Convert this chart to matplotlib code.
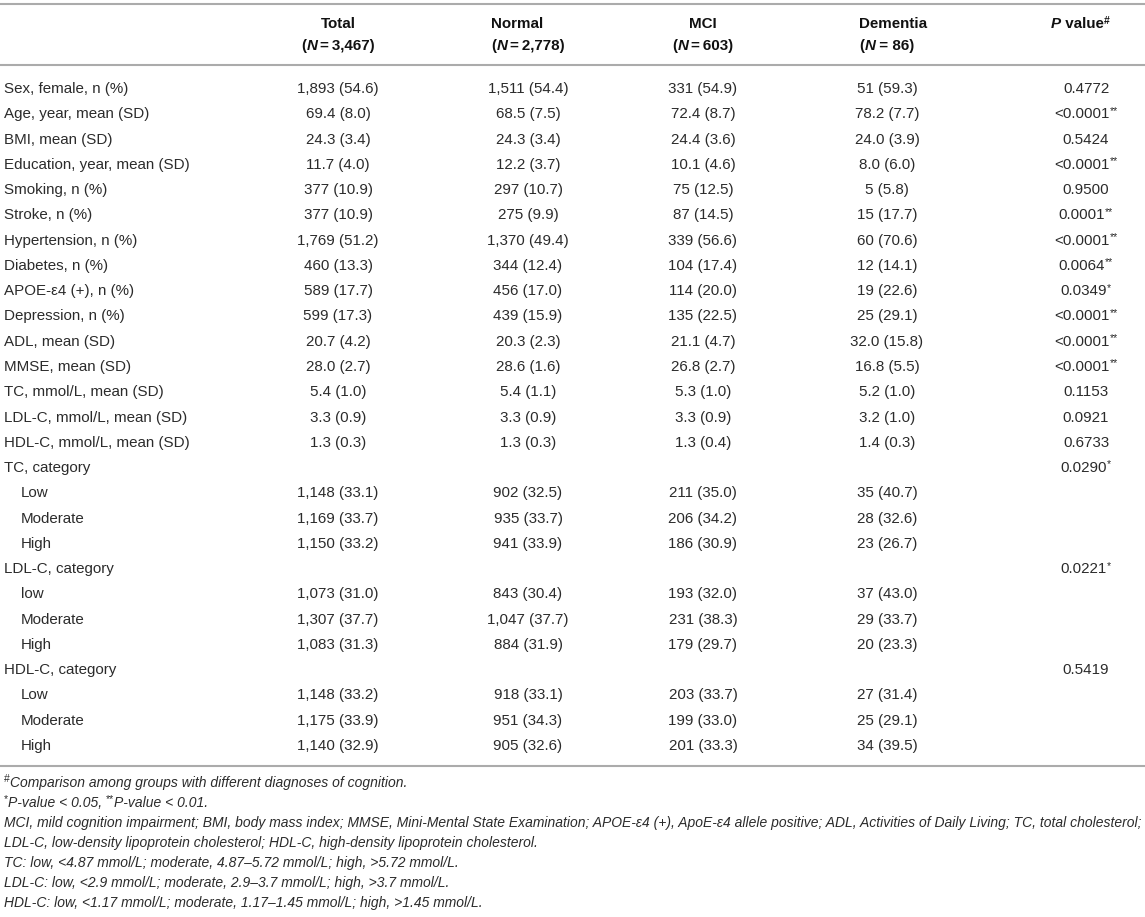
import matplotlib.pyplot as plt

plt.rcParams['font.family'] = ['Liberation Sans', 'DejaVu Sans']

# Table contents
row_labels = [
    "Sex, female, n (%)", "Age, year, mean (SD)", "BMI, mean (SD)",
    "Education, year, mean (SD)", "Smoking, n (%)", "Stroke, n (%)",
    "Hypertension, n (%)", "Diabetes, n (%)", "APOE-ε4 (+), n (%)",
    "Depression, n (%)", "ADL, mean (SD)", "MMSE, mean (SD)",
    "TC, mmol/L, mean (SD)", "LDL-C, mmol/L, mean (SD)", "HDL-C, mmol/L, mean (SD)",
    "TC, category", "Low", "Moderate", "High",
    "LDL-C, category", "low", "Moderate", "High",
    "HDL-C, category", "Low", "Moderate", "High",
]
indented = [False] * 16 + [True] * 3 + [False] + [True] * 3 + [False] + [True] * 3

total = [
    "1,893 (54.6)", "69.4 (8.0)", "24.3 (3.4)", "11.7 (4.0)", "377 (10.9)", "377 (10.9)",
    "1,769 (51.2)", "460 (13.3)", "589 (17.7)", "599 (17.3)", "20.7 (4.2)", "28.0 (2.7)",
    "5.4 (1.0)", "3.3 (0.9)", "1.3 (0.3)",
    "", "1,148 (33.1)", "1,169 (33.7)", "1,150 (33.2)",
    "", "1,073 (31.0)", "1,307 (37.7)", "1,083 (31.3)",
    "", "1,148 (33.2)", "1,175 (33.9)", "1,140 (32.9)",
]
normal = [
    "1,511 (54.4)", "68.5 (7.5)", "24.3 (3.4)", "12.2 (3.7)", "297 (10.7)", "275 (9.9)",
    "1,370 (49.4)", "344 (12.4)", "456 (17.0)", "439 (15.9)", "20.3 (2.3)", "28.6 (1.6)",
    "5.4 (1.1)", "3.3 (0.9)", "1.3 (0.3)",
    "", "902 (32.5)", "935 (33.7)", "941 (33.9)",
    "", "843 (30.4)", "1,047 (37.7)", "884 (31.9)",
    "", "918 (33.1)", "951 (34.3)", "905 (32.6)",
]
mci = [
    "331 (54.9)", "72.4 (8.7)", "24.4 (3.6)", "10.1 (4.6)", "75 (12.5)", "87 (14.5)",
    "339 (56.6)", "104 (17.4)", "114 (20.0)", "135 (22.5)", "21.1 (4.7)", "26.8 (2.7)",
    "5.3 (1.0)", "3.3 (0.9)", "1.3 (0.4)",
    "", "211 (35.0)", "206 (34.2)", "186 (30.9)",
    "", "193 (32.0)", "231 (38.3)", "179 (29.7)",
    "", "203 (33.7)", "199 (33.0)", "201 (33.3)",
]
dementia = [
    "51 (59.3)", "78.2 (7.7)", "24.0 (3.9)", "8.0 (6.0)", "5 (5.8)", "15 (17.7)",
    "60 (70.6)", "12 (14.1)", "19 (22.6)", "25 (29.1)", "32.0 (15.8)", "16.8 (5.5)",
    "5.2 (1.0)", "3.2 (1.0)", "1.4 (0.3)",
    "", "35 (40.7)", "28 (32.6)", "23 (26.7)",
    "", "37 (43.0)", "29 (33.7)", "20 (23.3)",
    "", "27 (31.4)", "25 (29.1)", "34 (39.5)",
]
# p value and significance marks
p_values = [
    "0.4772", "<0.0001", "0.5424", "<0.0001", "0.9500", "0.0001", "<0.0001", "0.0064",
    "0.0349", "<0.0001", "<0.0001", "<0.0001", "0.1153", "0.0921", "0.6733",
    "0.0290", "", "", "", "0.0221", "", "", "", "0.5419", "", "", "",
]
p_marks = [
    "", "**", "", "**", "", "**", "**", "**", "*", "**", "**", "**", "", "", "",
    "*", "", "", "", "*", "", "", "", "", "", "", "",
]

group_names = ["Total", "Normal", "MCI", "Dementia"]
group_n = ["3,467", "2,778", "603", "86"]
group_eq = ["\u2009=\u2009", "\u2009=\u2009", "\u2009=\u2009", " = "]

footnotes = [
    [("#", "sup"), ("Comparison among groups with different diagnoses of cognition.", "it")],
    [("*", "sup"), ("P-value < 0.05, ", "it"), ("**", "sup"), ("P-value < 0.01.", "it")],
    [("MCI, mild cognition impairment; BMI, body mass index; MMSE, Mini-Mental State Examination; "
      "APOE-ε4 (+), ApoE-ε4 allele positive; ADL, Activities of Daily Living; TC, total cholesterol;", "it")],
    [("LDL-C, low-density lipoprotein cholesterol; HDL-C, high-density lipoprotein cholesterol.", "it")],
    [("TC: low, <4.87 mmol/L; moderate, 4.87–5.72 mmol/L; high, >5.72 mmol/L.", "it")],
    [("LDL-C: low, <2.9 mmol/L; moderate, 2.9–3.7 mmol/L; high, >3.7 mmol/L.", "it")],
    [("HDL-C: low, <1.17 mmol/L; moderate, 1.17–1.45 mmol/L; high, >1.45 mmol/L.", "it")],
]

W, H = 1145, 917
TXT = '#2b2b2b'
FS = 10.9
FS_FOOT = 10.03
RULE = '#ababab'

fig = plt.figure(figsize=(W / 100, H / 100), dpi=100)
ax = fig.add_axes([0, 0, 1, 1])
ax.set_xlim(0, W)
ax.set_ylim(H, 0)
ax.axis('off')
renderer = fig.canvas.get_renderer()

STYLES = {
    'n': dict(fontsize=FS),
    'b': dict(fontsize=FS, fontweight='bold'),
    'bi': dict(fontsize=FS, fontweight='bold', fontstyle='italic'),
    'it': dict(fontsize=FS_FOOT, fontstyle='italic'),
    'sup': dict(fontsize=7.5),
    'bsup': dict(fontsize=7.5, fontweight='bold'),
}


def seg_width(s, style):
    t = ax.text(0, 0, s, **STYLES[style])
    w = t.get_window_extent(renderer).width
    t.remove()
    return w


def rich(x, base, segs, ha='left', color=TXT):
    widths = [seg_width(s, st) for s, st in segs]
    total_w = sum(widths)
    if ha == 'center':
        x -= total_w / 2
    for (s, st), w in zip(segs, widths):
        dy = -4.5 if 'sup' in st else 0
        ax.text(x, base + dy, s, va='baseline', ha='left', color=color, **STYLES[st])
        x += w


# column positions (pixels)
label_x, indent_x = 4, 21
col_x = [338, 528, 703, 887]
p_x = 1086
row0, row_h = 88, 25.27
off = 5  # baseline offset from row centre

# rules
for y in [4, 65, 766]:
    ax.plot([0, W], [y, y], color=RULE, lw=1.5, solid_capstyle='butt')

# header
head1, head2 = 23, 45
HC = '#111111'
for i, (name, n, eq) in enumerate(zip(group_names, group_n, group_eq)):
    segs2 = [("(", 'b'), ("N", 'bi'), (eq + n + ")", 'b')]
    if name in ("Normal", "Dementia"):
        left = col_x[i] - sum(seg_width(s, st) for s, st in segs2) / 2
        rich(left, head1 + off, [(name, 'b')], color=HC)
        rich(left, head2 + off, segs2, color=HC)
    else:
        rich(col_x[i], head1 + off, [(name, 'b')], ha='center', color=HC)
        rich(col_x[i], head2 + off, segs2, ha='center', color=HC)
rich(p_x - 6, head1 + off, [("P", 'bi'), (" value", 'b'), ("#", 'bsup')], ha='center',
     color=HC)

# body
for r, lab in enumerate(row_labels):
    yb = row0 + r * row_h + off
    ax.text(indent_x if indented[r] else label_x, yb, lab, va='baseline', ha='left',
            color=TXT, fontsize=FS)
    for i, col in enumerate([total, normal, mci, dementia]):
        if col[r]:
            ax.text(col_x[i], yb, col[r], va='baseline', ha='center', color=TXT, fontsize=FS)
    if p_values[r]:
        segs = [(p_values[r], 'n')]
        if p_marks[r]:
            segs.append((p_marks[r], 'sup'))
        rich(p_x, yb, segs, ha='center')

# footnotes
foot0, foot_h = 782, 20.0
for k, segs in enumerate(footnotes):
    rich(4, foot0 + k * foot_h + off, segs)

fig.savefig('out.png', dpi=100)
